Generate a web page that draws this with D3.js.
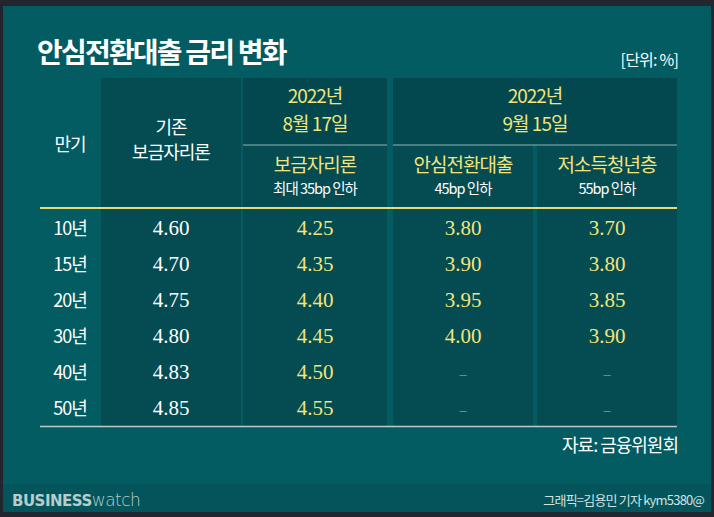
<!DOCTYPE html>
<html><head><meta charset="utf-8">
<script src="https://cdn.jsdelivr.net/npm/d3@7"></script>
<style>body{margin:0;background:#23262e}text{font-family:"Noto Sans CJK KR",sans-serif}</style>
</head><body><div id="vis"></div>
<script>
const terms = ["10년", "15년", "20년", "30년", "40년", "50년"];
const oldRates = [4.60, 4.70, 4.75, 4.80, 4.83, 4.85];
const bogeumRates = [4.25, 4.35, 4.40, 4.45, 4.50, 4.55];
const ansimRates = [3.80, 3.90, 3.95, 4.00, null, null];
const youthRates = [3.70, 3.80, 3.85, 3.90, null, null];

const width = 714, height = 517;
const svg = d3.select("#vis").append("svg").attr("width", width).attr("height", height);

svg.append("rect").attr("x", 3).attr("y", 6).attr("width", 708).attr("height", 506).attr("fill", "#025c62");
svg.append("rect").attr("x", 3).attr("y", 484).attr("width", 708).attr("height", 28).attr("fill", "#03555b");

svg.append("text").attr("x", 37).attr("y", 63).attr("fill", "#fff").attr("font-size", 28).attr("font-weight", 700)
  .attr("letter-spacing", -1.8).text("안심전환대출 금리 변화");
svg.append("text").attr("x", 678).attr("y", 66).attr("text-anchor", "end").attr("fill", "#fff").attr("font-size", 16)
  .attr("letter-spacing", -0.8).text("[단위: %]");

const cols = [
  {x: 101, w: 140, vals: oldRates, color: "#ffffff"},
  {x: 243, w: 144, vals: bogeumRates, color: "#f3e47a"},
  {x: 393, w: 140, vals: ansimRates, color: "#f3e47a"},
  {x: 537, w: 140, vals: youthRates, color: "#f3e47a"}
];
const y = d3.scaleBand().domain(terms).range([210, 426]);
const tableTop = 78;

cols.forEach(c => {
  svg.append("rect").attr("x", c.x).attr("y", tableTop).attr("width", c.w).attr("height", 426 - tableTop).attr("fill", "#044c52");
});
svg.append("rect").attr("x", 243).attr("y", tableTop).attr("width", 144).attr("height", 67).attr("fill", "#03484e");
svg.append("rect").attr("x", 393).attr("y", tableTop).attr("width", 284).attr("height", 67).attr("fill", "#03484e");
svg.append("line").attr("x1", 243).attr("x2", 387).attr("y1", 145).attr("y2", 145).attr("stroke", "#8fb3b3").attr("stroke-width", 1.2);
svg.append("line").attr("x1", 393).attr("x2", 677).attr("y1", 145).attr("y2", 145).attr("stroke", "#8fb3b3").attr("stroke-width", 1.2);

const ht = (x, yy, s, fill, size) => svg.append("text").attr("x", x).attr("y", yy).attr("text-anchor", "middle")
  .attr("fill", fill).attr("font-size", size).attr("letter-spacing", -1).text(s);
ht(70, 151, "만기", "#fff", 18);
ht(171, 134, "기존", "#fff", 18);
ht(171, 159, "보금자리론", "#fff", 18);
ht(315, 103, "2022년", "#f3e47a", 19);
ht(315, 131, "8월 17일", "#f3e47a", 19);
ht(535, 103, "2022년", "#f3e47a", 19);
ht(535, 131, "9월 15일", "#f3e47a", 19);
ht(315, 172, "보금자리론", "#f3e47a", 19);
ht(315, 194, "최대 35bp 인하", "#fff", 14.5);
ht(463, 172, "안심전환대출", "#f3e47a", 19);
ht(463, 194, "45bp 인하", "#fff", 14.5);
ht(607, 172, "저소득청년층", "#f3e47a", 19);
ht(607, 194, "55bp 인하", "#fff", 14.5);

svg.append("line").attr("x1", 40).attr("x2", 677).attr("y1", 208).attr("y2", 208).attr("stroke", "#e6dc72").attr("stroke-width", 2);
svg.append("line").attr("x1", 40).attr("x2", 677).attr("y1", 426.5).attr("y2", 426.5).attr("stroke", "#b6cccc").attr("stroke-width", 1.5);

terms.forEach((t, i) => {
  const cy = y(t) + y.bandwidth() / 2 + 7;
  ht(70, cy, t, "#fff", 18);
  cols.forEach(c => {
    const v = c.vals[i];
    svg.append("text").attr("x", c.x + c.w / 2).attr("y", cy).attr("text-anchor", "middle")
      .style("font-family", "'Liberation Serif',serif").attr("font-size", v == null ? 14 : 21)
      .attr("fill", v == null ? "#8e9a6a" : c.color).text(v == null ? "–" : v.toFixed(2));
  });
});

svg.append("text").attr("x", 678).attr("y", 452).attr("text-anchor", "end").attr("fill", "#fff").attr("font-size", 18)
  .attr("letter-spacing", -1).text("자료: 금융위원회");
svg.append("text").attr("x", 12).attr("y", 506).attr("fill", "#b9cccc").attr("font-size", 15).attr("font-weight", 900)
  .style("font-family", "'DejaVu Sans',sans-serif").attr("letter-spacing", -0.5)
  .html('BUSINESS<tspan font-weight="300" font-size="17">watch</tspan>');
svg.append("text").attr("x", 704).attr("y", 505).attr("text-anchor", "end").attr("fill", "#d5e0e0").attr("font-size", 13)
  .attr("letter-spacing", -0.8).text("그래픽=김용민 기자 kym5380@");
</script></body></html>
